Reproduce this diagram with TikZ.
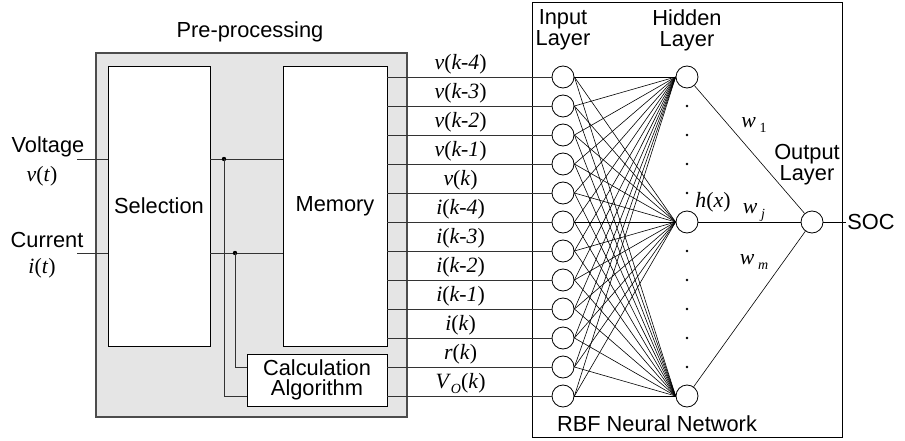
\documentclass[tikz,border=0pt]{standalone}
\usepackage{fontspec}
\setmainfont{Liberation Sans}
\newfontfamily\timesfont{Liberation Serif}
\usetikzlibrary{positioning}
\newcommand{\sig}[2]{{\timesfont\textit{#1}(\textit{#2})}}
\newcommand{\wt}[2]{{\timesfont\textit{#1}\,\raisebox{-.5ex}{\fontsize{14}{14}\selectfont#2}}}

\begin{document}
\begin{tikzpicture}[x=1pt,y=-1pt,line width=.8pt,
  font=\fontsize{21.8}{21}\selectfont,
  blk/.style={draw,fill=white,inner sep=0pt,align=center},
  neuron/.style={draw,circle,fill=white,minimum size=22pt,inner sep=0pt},
  wire/.style={black!80}]
\path[use as bounding box] (0,0) rectangle (905,441);
% pre-processing part
\node[draw=black!70,line width=1.2pt,fill=gray!20,minimum width=311pt,minimum height=364pt,inner sep=0pt] (pre) at (251.5,235) {};
\node (prelab) at (250,32) {Pre-processing};
\node[blk,minimum width=102pt,minimum height=280pt] (sel) at (159,206) {Selection};
\node[blk,minimum width=104pt,minimum height=280pt] (mem) at (335,206) {Memory};
\node[blk,minimum width=140pt,minimum height=52pt] (calc) at (317,380) {Calculation\\[-1pt]Algorithm};
% RBF network part
\node[draw,minimum width=310pt,minimum height=435pt,inner sep=0pt] (rbf) at (687,219.5) {};
\node (rbflab) at (657,424) {RBF Neural Network};
\node[align=center] (inlab) at (563,30) {Input\\Layer};
\node[align=center] (hidlab) at (687,30) {Hidden\\Layer};
\node[align=center] (outlab) at (807,165) {Output\\Layer};
% inputs of the selection block
\node (volt) at (48,147) {Voltage};
\node (vt) at (42,176) {\sig{v}{t}};
\node (curr) at (47,240) {Current};
\node (it) at (42,268) {\sig{i}{t}};
\coordinate (vin) at (77,159);
\coordinate (iin) at (77,253);
\draw[wire] (vin) -- (sel.west |- vin);
\draw[wire] (iin) -- (sel.west |- iin);
% selection -> memory and calculation
\coordinate (j1) at (224,159);
\coordinate (j2) at (235,253);
\draw[wire] (sel.east |- j1) -- (mem.west |- j1);
\draw[wire] (sel.east |- j2) -- (mem.west |- j2);
\fill (j1) circle (2.2);
\fill (j2) circle (2.2);
% input layer
\foreach \i in {1,...,12}
  \node[neuron] (in\i) at (563,77+29*\i-29) {};
\draw[wire] (j1) |- (calc.west |- in12);
\draw[wire] (j2) |- (calc.west |- in11);
\foreach \i/\txt in {1/\sig{v}{k-4},2/\sig{v}{k-3},3/\sig{v}{k-2},4/\sig{v}{k-1},5/\sig{v}{k},
    6/\sig{i}{k-4},7/\sig{i}{k-3},8/\sig{i}{k-2},9/\sig{i}{k-1},10/\sig{i}{k}} {
  \draw[wire] (mem.east |- in\i) -- (in\i.west);
  \node[above=0pt of in\i.west,xshift=-91pt,inner sep=2pt] (sig\i) {\txt};
}
\draw[wire] (calc.east |- in11) -- (in11.west);
\node[above=0pt of in11.west,xshift=-91pt,inner sep=2pt] (sig11) {\sig{r}{k}};
\draw[wire] (calc.east |- in12) -- (in12.west);
\node[above=0pt of in12.west,xshift=-91pt,inner sep=2pt] (sig12) {{\timesfont\textit{V}\raisebox{-.5ex}{\fontsize{14}{14}\selectfont\textit{O}}(\textit{k})}};
% hidden layer
\node[neuron] (h1) at (687,77) {};
\node[neuron] (hj) at (687,222) {};
\node[neuron] (hm) at (687,396) {};
\foreach \y in {106,135,164,193,251,280,309,338,367}
  \fill (687,\y) circle (1.3);
\foreach \i in {1,...,12}
  \foreach \h in {h1,hj,hm}
    \draw[line width=.6pt] (in\i.east) -- (\h.west);
% output layer
\node[neuron] (out) at (812,222) {};
\draw[line width=.6pt] (h1) -- (out);
\draw[line width=.6pt] (hj) -- (out);
\draw[line width=.6pt] (hm) -- (out);
\node[inner sep=1pt,anchor=west] (soc) at (846,222) {SOC};
\draw (out) -- (soc.west);
\node (hx) at (713,202) {\sig{h}{x}};
\node (w1) at (754,125) {\wt{w}{1}};
\node (wj) at (754,212) {\wt{w}{\textit{j}}};
\node (wm) at (754,262) {\wt{w}{\textit{m}}};
\end{tikzpicture}
\end{document}
